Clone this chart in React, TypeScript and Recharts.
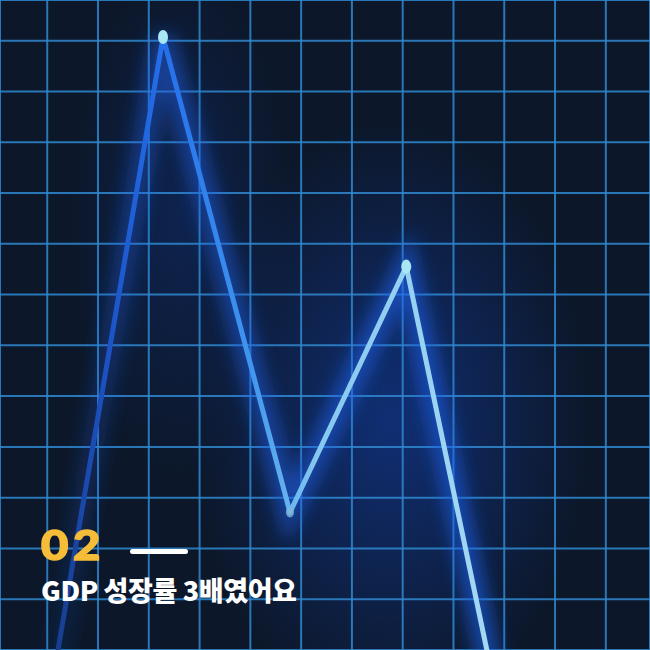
import React from "react";
import { LineChart, Line, XAxis, YAxis, CartesianGrid } from "recharts";

// grid units: one cell = one unit, value 0 at the bottom edge
const periods = [0.16, 2.28, 4.78, 7.07, 8.72];
const growth = [-0.3, 12.07, 2.71, 7.55, -0.3];
const xTicks = [0, 1, 2, 3, 4, 5, 6, 7, 8, 9, 10, 11];
const yTicks = [0, 1, 2, 3, 4, 5, 6, 7, 8, 9, 10, 11, 12];

const data = periods.map((p, i) => ({ period: p, growth: growth[i] }));

const W = 650;
const H = 650;

const GlowDot = (props: any) => {
  const { cx, cy, index } = props;
  if (index === 0 || index === data.length - 1) return <g key={`d-${index}`} />;
  const trough = index === 2;
  return (
    <g key={`d-${index}`}>
      <ellipse cx={cx} cy={cy} rx={trough ? 4 : 5} ry={trough ? 5 : 7} fill={trough ? "#7fb8d8" : "#a9e8f2"} opacity={trough ? 0.8 : 1} />
    </g>
  );
};

export default function App() {
  return (
    <div
      style={{
        position: "absolute",
        left: 0,
        top: 0,
        width: W,
        height: H,
        overflow: "hidden",
        background:
          "radial-gradient(ellipse 200px 300px at 390px 420px, rgba(20,70,190,0.5), rgba(20,70,190,0) 100%), radial-gradient(ellipse 110px 260px at 180px 220px, rgba(20,70,190,0.25), rgba(20,70,190,0) 100%), #0c1729",
      }}
    >
      <LineChart width={W} height={H} data={data} margin={{ top: 0, right: 0, bottom: 0, left: 0 }}>
        <defs>
          <linearGradient id="lineGrad" x1="0" y1="0" x2="1" y2="0">
            <stop offset="0%" stopColor="#173d8c" />
            <stop offset="12%" stopColor="#1c52c4" />
            <stop offset="25%" stopColor="#2470ec" />
            <stop offset="45%" stopColor="#3f96ee" />
            <stop offset="60%" stopColor="#84c8f0" />
            <stop offset="100%" stopColor="#a4d9f3" />
          </linearGradient>
          <linearGradient id="glowGrad" x1="0" y1="0" x2="1" y2="0">
            <stop offset="0%" stopColor="#1f63f0" stopOpacity={0.1} />
            <stop offset="25%" stopColor="#1f63f0" stopOpacity={0.5} />
            <stop offset="100%" stopColor="#1f63f0" stopOpacity={0.65} />
          </linearGradient>
          <filter id="glow" x="-20%" y="-20%" width="140%" height="140%">
            <feGaussianBlur stdDeviation="9" />
          </filter>
        </defs>
        <CartesianGrid stroke="#3088d0" strokeWidth={2} strokeOpacity={0.85} />
        <XAxis type="number" dataKey="period" domain={[-0.93, 11.87]} ticks={xTicks} allowDataOverflow hide />
        <YAxis type="number" domain={[0, 12.8]} ticks={yTicks} allowDataOverflow hide />
        <Line
          type="linear"
          dataKey="growth"
          stroke="url(#glowGrad)"
          strokeWidth={22}
          filter="url(#glow)"
          dot={false}
          activeDot={false}
          isAnimationActive={false}
        />
        <Line
          type="linear"
          dataKey="growth"
          stroke="url(#lineGrad)"
          strokeWidth={5}
          strokeLinejoin="round"
          dot={<GlowDot />}
          activeDot={false}
          isAnimationActive={false}
        />
      </LineChart>
      <div
        style={{
          position: "absolute",
          left: 41,
          top: 524,
          fontFamily: "Lato, Roboto, sans-serif",
          fontWeight: 900,
          fontSize: 41,
          lineHeight: "42px",
          color: "#f6bd38",
          WebkitTextStroke: "1.5px #f6bd38",
          letterSpacing: 4,
          transform: "scaleX(1.15)",
          transformOrigin: "left center",
        }}
      >
        02
      </div>
      <div style={{ position: "absolute", left: 130, top: 549, width: 58, height: 5, borderRadius: 3, background: "#ffffff" }} />
      <div
        style={{
          position: "absolute",
          left: 41,
          top: 575,
          fontFamily: "'Noto Sans CJK KR', sans-serif",
          fontWeight: 800,
          fontSize: 27,
          lineHeight: "30px",
          color: "#ffffff",
          letterSpacing: -0.4,
          whiteSpace: "nowrap",
        }}
      >
        GDP 성장률 3배였어요
      </div>
    </div>
  );
}
